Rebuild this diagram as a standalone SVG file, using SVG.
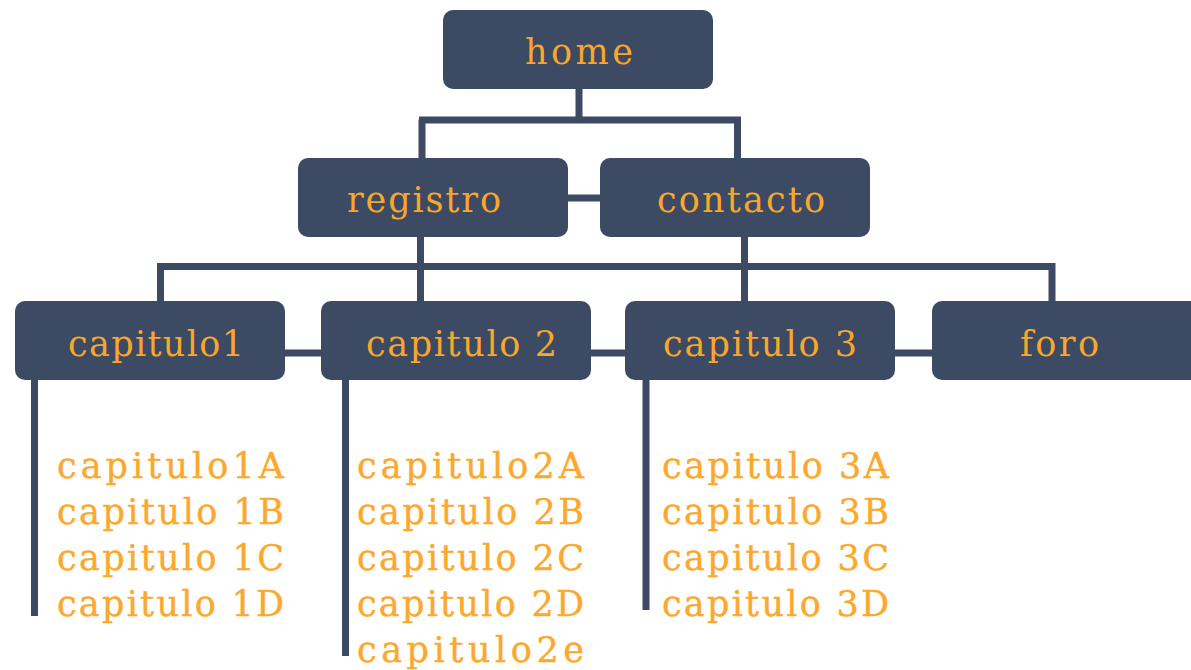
<svg xmlns="http://www.w3.org/2000/svg" width="1191" height="670" viewBox="0 0 1191 670">
<style>
.box{fill:#3c4a63;}
.ln{stroke:#3c4a63;stroke-width:7;fill:none;stroke-linecap:butt;}
.bt{font-family:"DejaVu Serif","Liberation Serif",serif;font-size:35px;fill:#f9a72b;}
.lt{font-family:"DejaVu Serif","Liberation Serif",serif;font-size:35px;fill:#fba82c;stroke:#fba82c;stroke-width:0.4;}
</style>
<rect width="1191" height="670" fill="#ffffff"/>
<g id="connectors">
<path class="ln" d="M579,88 V120 M419,120 H741 M422,119.5 V159 M737.5,119.5 V159"/>
<path class="ln" d="M567,198 H601"/>
<path class="ln" d="M420.5,236 V302 M744.5,236 V302 M157,266.5 H1055.5 M160.5,266 V302 M1052,266 V302"/>
<path class="ln" d="M284,353 H322 M590,353 H626 M894,353 H933"/>
<path class="ln" d="M34.5,379 V616 M345.5,379 V656 M646,379 V610"/>
</g>
<g id="home"><rect class="box" x="443" y="10" width="270" height="79" rx="10"/><text class="bt" x="525" y="64" textLength="108">home</text></g>
<g id="registro"><rect class="box" x="298" y="158" width="270" height="79" rx="10"/><text class="bt" x="347" y="212" textLength="154">registro</text></g>
<g id="contacto"><rect class="box" x="600" y="158" width="270" height="79" rx="10"/><text class="bt" x="657" y="212" textLength="168">contacto</text></g>
<g id="capitulo1"><rect class="box" x="15" y="301" width="270" height="79" rx="10"/><text class="bt" x="68" y="356" textLength="176">capitulo1</text></g>
<g id="capitulo2"><rect class="box" x="321" y="301" width="270" height="79" rx="10"/><text class="bt" x="366" y="356" textLength="191">capitulo 2</text></g>
<g id="capitulo3"><rect class="box" x="625" y="301" width="270" height="79" rx="10"/><text class="bt" x="663" y="356" textLength="194">capitulo 3</text></g>
<g id="foro"><rect class="box" x="932" y="301" width="275" height="79" rx="10"/><text class="bt" x="1020" y="356" textLength="79">foro</text></g>
<g id="list1">
<text class="lt" x="57" y="478" textLength="227">capitulo1A</text>
<text class="lt" x="57" y="524" textLength="227">capitulo 1B</text>
<text class="lt" x="57" y="570" textLength="227">capitulo 1C</text>
<text class="lt" x="57" y="616" textLength="227">capitulo 1D</text>
</g>
<g id="list2">
<text class="lt" x="357" y="478" textLength="227">capitulo2A</text>
<text class="lt" x="357" y="524" textLength="227">capitulo 2B</text>
<text class="lt" x="357" y="570" textLength="227">capitulo 2C</text>
<text class="lt" x="357" y="616" textLength="227">capitulo 2D</text>
<text class="lt" x="357" y="662" textLength="227">capitulo2e</text>
</g>
<g id="list3">
<text class="lt" x="662" y="478" textLength="227">capitulo 3A</text>
<text class="lt" x="662" y="524" textLength="227">capitulo 3B</text>
<text class="lt" x="662" y="570" textLength="227">capitulo 3C</text>
<text class="lt" x="662" y="616" textLength="227">capitulo 3D</text>
</g>
</svg>
